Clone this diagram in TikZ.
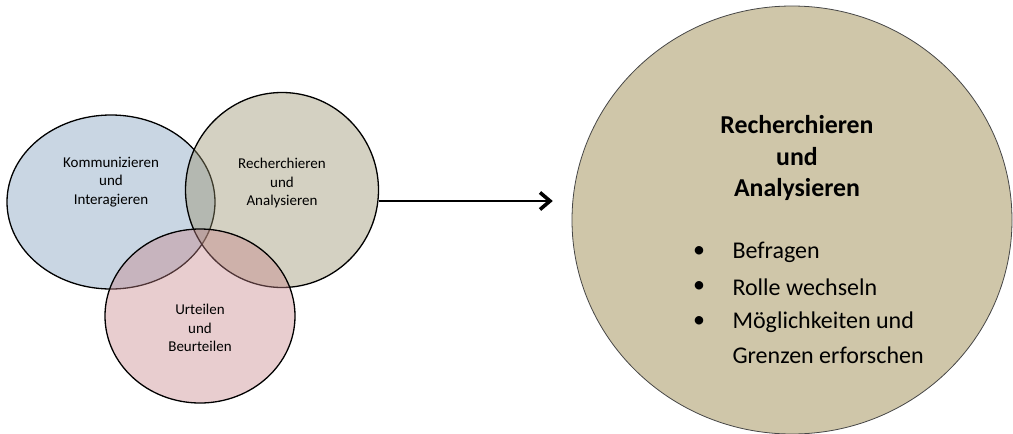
\documentclass[tikz,border=0pt]{standalone}
\usepackage{fontspec}
\setmainfont{Carlito}
\usetikzlibrary{shapes.geometric,arrows.meta}
\definecolor{bluefill}{RGB}{201,214,227}
\definecolor{beigefill}{RGB}{150,143,106}
\definecolor{pinkfill}{RGB}{197,130,135}
\definecolor{bigfill}{RGB}{207,198,169}
\definecolor{bigline}{RGB}{70,70,70}
\tikzset{
  venn/.style={ellipse, draw=black, line width=1.3pt, inner sep=0pt},
  smalltext/.style={align=center, font=\fontsize{15}{18.5}\selectfont, text=black},
  bigtitle/.style={align=center, font=\fontsize{25.8}{31.5}\selectfont\bfseries},
  bullettext/.style={anchor=west, font=\fontsize{24}{34}\selectfont},
  bulletdot/.style={font=\fontsize{24}{34}\selectfont},
  chevron/.style={line width=3.6pt, line join=miter, miter limit=10},
}
\begin{document}
\begin{tikzpicture}[x=1pt,y=-1pt]
\useasboundingbox (0,0) rectangle (1013,434);
\node[venn, fill=bluefill, minimum width=208pt, minimum height=174pt] (blue) at (111,202) {};
\node[venn, fill=beigefill, fill opacity=0.41, minimum width=193pt, minimum height=195pt] (beige) at (282,190) {};
\node[venn, fill=pinkfill, fill opacity=0.4, minimum width=190pt, minimum height=174pt] (pink) at (200,316) {};
\node[smalltext] (tblue) at (111,182) {Kommunizieren\\und\\Interagieren};
\node[smalltext] (tbeige) at (282,183) {Recherchieren\\und\\Analysieren};
\node[smalltext] (tpink) at (200,328) {Urteilen\\und\\Beurteilen};
\node[ellipse, draw=bigline, line width=0.8pt, fill=bigfill, inner sep=0pt, minimum width=440pt, minimum height=428pt] (big) at (792,220) {};
\coordinate (tip) at (550,201);
\draw[line width=1.3pt] (beige.east |- tip) -- (tip);
\draw[chevron] ([shift={(-10,-8.5)}]tip) -- (tip) -- ([shift={(-10,8.5)}]tip);
\node[bigtitle] (title) at (797,158) {Recherchieren\\und\\Analysieren};
\node[bulletdot] (b1) at (699,252) {\textbullet};
\node[bulletdot] (b2) at (699,287) {\textbullet};
\node[bulletdot] (b3) at (699,322) {\textbullet};
\node[bullettext] (t1) at (729,252) {Befragen};
\node[bullettext] (t2) at (729,287) {Rolle wechseln};
\node[bullettext] (t3) at (729,322) {Möglichkeiten und};
\node[bullettext] (t4) at (729,355) {Grenzen erforschen};
\end{tikzpicture}
\end{document}
